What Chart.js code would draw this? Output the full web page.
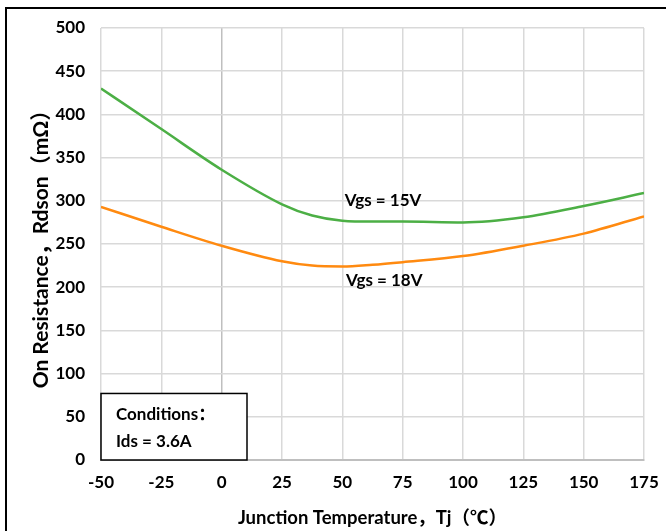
<!DOCTYPE html>
<html>
<head>
<meta charset="utf-8">
<script src="https://cdn.jsdelivr.net/npm/chart.js@4/dist/chart.umd.min.js"></script>
<style>
  html, body { margin: 0; padding: 0; background: #fff; }
  #wrap { position: relative; width: 666px; height: 531px; overflow: hidden; }
  #frame { position: absolute; left: 5px; top: 7px; width: 700px; height: 600px; border: 2px solid #000; box-sizing: border-box; }
  canvas { position: absolute; left: 0; top: 0; }
</style>
</head>
<body>
<div id="wrap">
  <div id="frame"></div>
  <canvas id="c" width="666" height="531"></canvas>
</div>
<script>
// Junction temperature (°C) and Rdson (mΩ)
const temps = [-50, -25, 0, 25, 37.5, 50, 62.5, 75, 100, 125, 150, 175];
const vgs15 = [430, 383, 336, 296, 283, 277, 276, 276, 275, 281, 294, 309];
const vgs18 = [293, 270, 248, 230, 225, 224, 226, 229, 236, 248, 262, 282];
const xTicks = [-50, -25, 0, 25, 50, 75, 100, 125, 150, 175];

const FONT = "Lato, 'Noto Sans CJK SC', sans-serif";

const annotations = {
  id: "annotations",
  afterDatasetsDraw(chart) {
    const { ctx, scales } = chart;
    const x = scales.x, y = scales.y;
    ctx.save();
    ctx.fillStyle = "#000";
    ctx.font = "bold 17px " + FONT;
    ctx.textBaseline = "middle";
    ctx.textAlign = "left";
    ctx.fillText("Vgs = 15V", x.getPixelForValue(51), y.getPixelForValue(300));
    ctx.fillText("Vgs = 18V", x.getPixelForValue(51.5), y.getPixelForValue(208));

    // conditions box
    const bx = x.left, by = y.getPixelForValue(77), bw = 146, bh = y.bottom - by;
    ctx.fillStyle = "#fff";
    ctx.fillRect(bx, by, bw, bh);
    ctx.strokeStyle = "#000";
    ctx.lineWidth = 1.5;
    ctx.strokeRect(bx, by, bw, bh);
    ctx.fillStyle = "#000";
    ctx.fillText("Conditions：", bx + 15, by + 21);
    ctx.fillText("Ids = 3.6A", bx + 15, by + 48);
    ctx.restore();
  }
};

new Chart(document.getElementById("c"), {
  type: "line",
  data: {
    datasets: [
      {
        label: "Vgs = 15V",
        data: temps.map((t, i) => ({ x: t, y: vgs15[i] })),
        borderColor: "#4caf45",
        borderWidth: 2.5,
        pointRadius: 0,
        cubicInterpolationMode: "monotone",
      },
      {
        label: "Vgs = 18V",
        data: temps.map((t, i) => ({ x: t, y: vgs18[i] })),
        borderColor: "#ff8a10",
        borderWidth: 2.5,
        pointRadius: 0,
        cubicInterpolationMode: "monotone",
      },
    ],
  },
  options: {
    responsive: false,
    animation: false,
    layout: { padding: { top: 28, right: 22, left: 0, bottom: 0 } },
    plugins: { legend: { display: false }, tooltip: { enabled: false } },
    scales: {
      x: {
        type: "linear",
        min: -50,
        max: 175,
        afterBuildTicks: (s) => { s.ticks = xTicks.map((v) => ({ value: v })); },
        afterFit: (s) => { s.height = 71; s.paddingLeft = 0; s.paddingRight = 0; },
        grid: {
          color: (c) => (c.tick && c.tick.value === 0 ? "#bfbfbf" : "#d9d9d9"),
          lineWidth: 1.5,
          drawTicks: false,
        },
        border: { color: "#bfbfbf", width: 2 },
        ticks: { color: "#000", font: { family: FONT, size: 17, weight: "bold" }, padding: 12, maxRotation: 0 },
        title: {
          display: true,
          text: "Junction Temperature，Tj（℃）",
          color: "#000",
          font: { family: FONT, size: 18.5, weight: "bold" },
          padding: { top: 6, bottom: 2 },
        },
      },
      y: {
        min: 0,
        max: 500,
        ticks: { stepSize: 50, color: "#000", font: { family: FONT, size: 17, weight: "bold" }, padding: 16 },
        afterFit: (s) => { s.width = 101; },
        grid: { color: "#d9d9d9", lineWidth: 1.5, drawTicks: false },
        border: { display: false },
        title: {
          display: true,
          text: "On Resistance，Rdson（mΩ）",
          color: "#000",
          font: { family: FONT, size: 21, weight: "bold" },
          padding: { top: 29, bottom: 0 },
        },
      },
    },
  },
  plugins: [annotations],
});
</script>
</body>
</html>
